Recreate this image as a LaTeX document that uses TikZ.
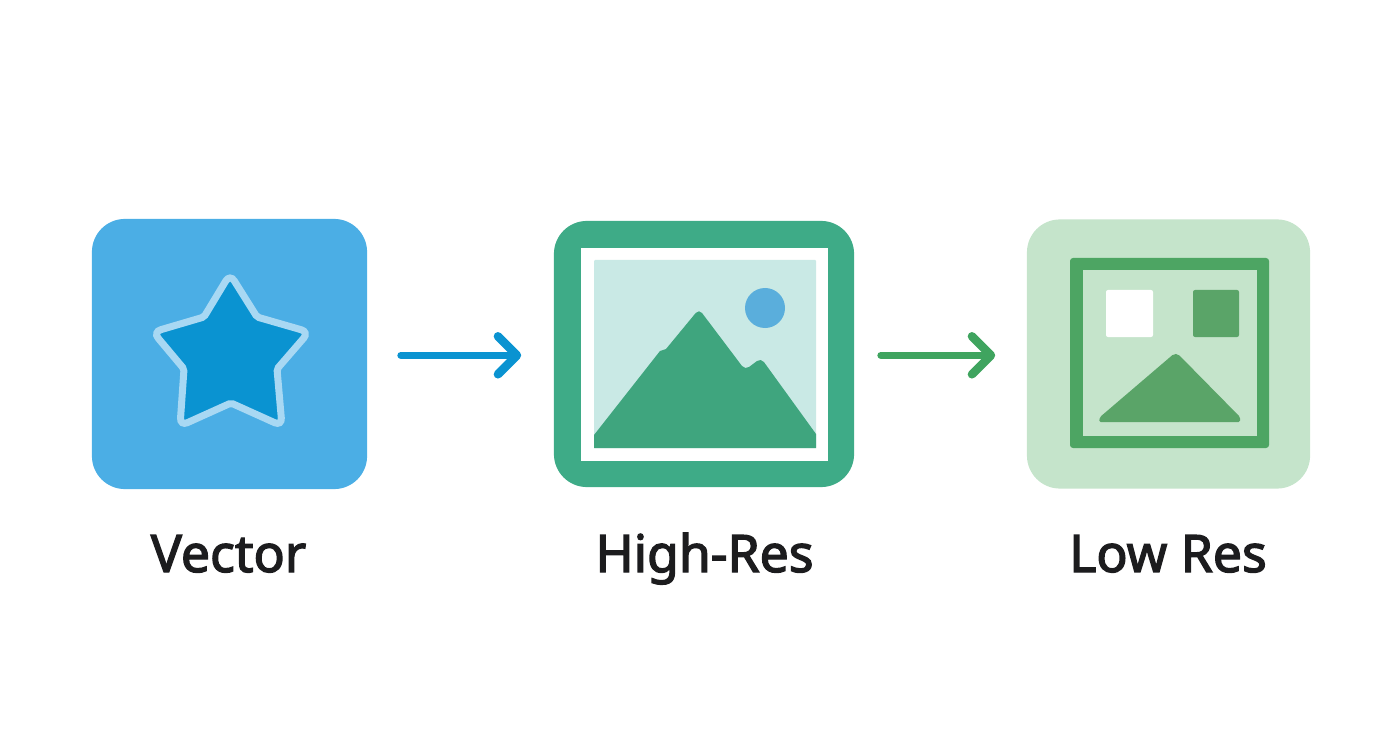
\documentclass[tikz,border=0pt]{standalone}
\usepackage{fontspec}
\setmainfont{Noto Sans}
\usetikzlibrary{arrows.meta}
\definecolor{tileblue}{HTML}{4BAEE5}
\definecolor{starblue}{HTML}{0A93D1}
\definecolor{starrim}{HTML}{A8D8F3}
\definecolor{framegreen}{HTML}{3EAB87}
\definecolor{skypale}{HTML}{C9E9E5}
\definecolor{hillgreen}{HTML}{3FA57E}
\definecolor{sunblue}{HTML}{5AAEDC}
\definecolor{tilepale}{HTML}{C5E4CB}
\definecolor{lowgreen}{HTML}{4DA563}
\definecolor{lowhill}{HTML}{5AA468}
\definecolor{arrowgreen}{HTML}{3FA45F}
\definecolor{inkdark}{HTML}{1C1C1E}
\tikzset{
    tile/.style={rounded corners=.33cm, inner sep=0pt},
    caption/.style={text=inkdark, anchor=base, font=\fontsize{14.7}{17}\selectfont\addfontfeature{FakeBold=2.6}, inner sep=0pt},
    flow/.style={line width=.07cm, line cap=round, -{Straight Barb[length=.19cm, width=.38cm, line width=.085cm, round]}},
}
\begin{document}
\begin{tikzpicture}[x=.01cm, y=-.01cm]
    \useasboundingbox (0,0) rectangle (1392,752);

    % tiles
    \node[tile, fill=tileblue, minimum width=2.75cm, minimum height=2.70cm] (vector) at (229.5,354) {};
    \node[tile, fill=framegreen, minimum width=3.00cm, minimum height=2.66cm] (highres) at (704,354) {};
    \node[tile, fill=tilepale, minimum width=2.83cm, minimum height=2.69cm] (lowres) at (1168.5,354) {};

    % star
    \draw[fill=starblue, draw=starrim, line width=.07cm, rounded corners=.08cm]
        (230,274) [rounded corners=.02cm] -- (257,317) [rounded corners=.08cm] -- (309,332)
        [rounded corners=.02cm] -- (277,369) [rounded corners=.08cm] -- (282,426)
        [rounded corners=.02cm] -- (231,403) [rounded corners=.08cm] -- (180,426)
        [rounded corners=.02cm] -- (184,369) [rounded corners=.08cm] -- (153,332)
        [rounded corners=.02cm] -- (204,317) [rounded corners=.08cm] -- cycle;

    % high res picture
    \fill[white] (581,248) rectangle (828,461);
    \fill[skypale, rounded corners=.01cm] (594,260) rectangle (816,448);
    \fill[sunblue] (765,308) circle (20);
    \fill[hillgreen] (594,448) -- (594,435) -- (660,351) -- (666,349)
        [rounded corners=.05cm] -- (699,309) -- (745,370) -- (761,358)
        [sharp corners] -- (816,434) -- (816,448) -- cycle;

    % low res picture
    \fill[lowgreen, rounded corners=.03cm] (1070,258) rectangle (1269,448);
    \fill[tilepale] (1083,270) rectangle (1257,436);
    \fill[white, rounded corners=.02cm] (1106,290) rectangle (1153,337);
    \fill[lowhill, rounded corners=.02cm] (1193,290) rectangle (1239,337);
    \fill[lowhill, rounded corners=.015cm] (1099,422) -- (1100,417)
        [rounded corners=.05cm] -- (1176,352)
        [rounded corners=.015cm] -- (1240,417) -- (1240,422) -- cycle;

    % connectors
    \draw[flow, starblue, shorten <=.33cm, shorten >=.32cm] ([yshift=-.013cm]vector.east) -- ([yshift=-.013cm]highres.west);
    \draw[flow, arrowgreen, shorten <=.26cm, shorten >=.31cm] ([yshift=-.013cm]highres.east) -- ([yshift=-.013cm]lowres.west);

    % labels
    \node[caption] (vectorlabel) at (228.5,572) {Vector};
    \node[caption] (highreslabel) at (704.5,572) {High-Res};
    \node[caption] (lowreslabel) at (1168,572) {Low Res};
\end{tikzpicture}
\end{document}
